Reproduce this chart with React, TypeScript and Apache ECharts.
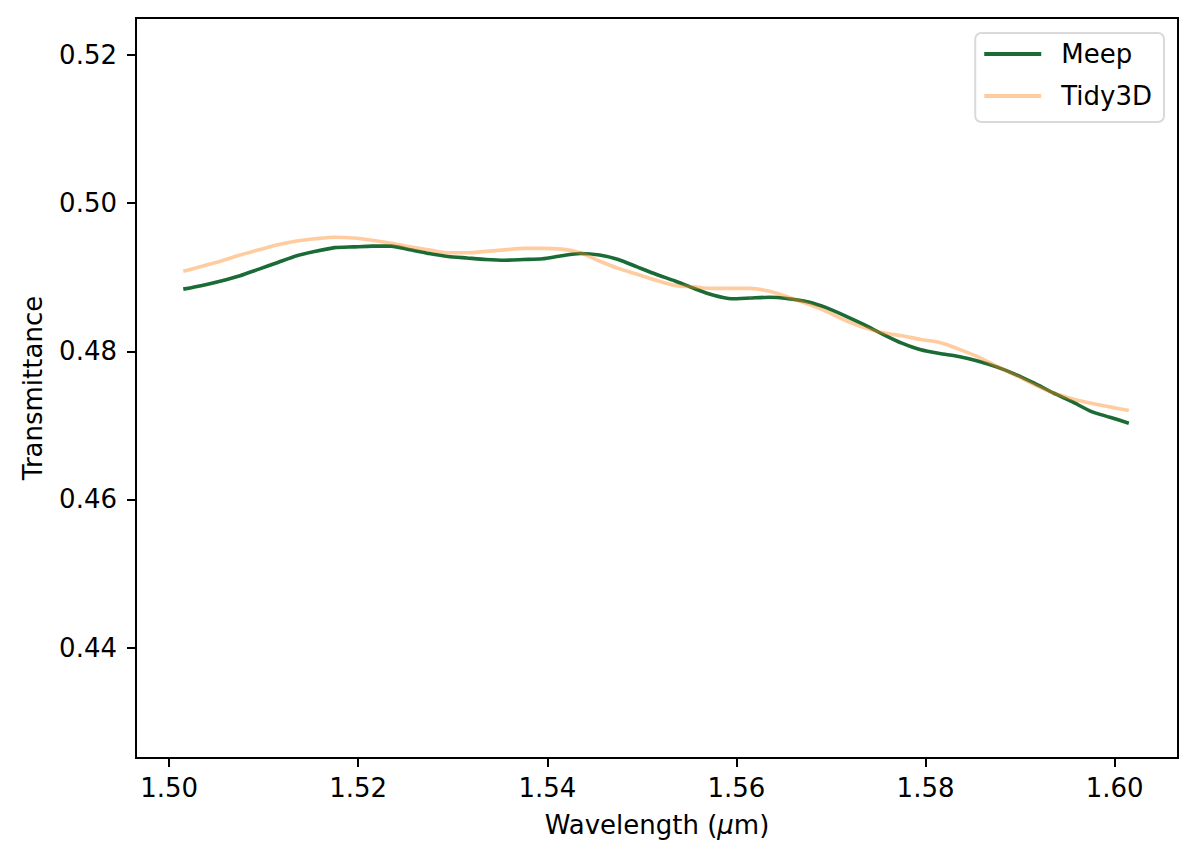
import React, { useEffect, useRef } from "react";
import * as echarts from "echarts";

const wavelengths = [
  1.5015, 1.5035, 1.5055, 1.5075, 1.5095, 1.5115, 1.5135, 1.5155, 1.5175, 1.5195,
  1.5215, 1.5235, 1.5255, 1.5275, 1.5295, 1.5315, 1.5335, 1.5355, 1.5375, 1.5395,
  1.5415, 1.5435, 1.5455, 1.5475, 1.5495, 1.5515, 1.5535, 1.5555, 1.5575, 1.5595,
  1.5615, 1.5635, 1.5655, 1.5675, 1.5695, 1.5715, 1.5735, 1.5755, 1.5775, 1.5795,
  1.5815, 1.5835, 1.5855, 1.5875, 1.5895, 1.5915, 1.5935, 1.5955, 1.5975, 1.5995,
  1.6015,
];

const meep = [
  0.4884, 0.4889, 0.4895, 0.4902, 0.4911, 0.492, 0.4929, 0.4935, 0.494, 0.4941,
  0.4942, 0.4942, 0.4937, 0.4932, 0.4928, 0.4926, 0.4924, 0.4923, 0.4924, 0.4925,
  0.4929, 0.4932, 0.493, 0.4924, 0.4914, 0.4904, 0.4895, 0.4885, 0.4876, 0.4871,
  0.4872, 0.4873, 0.4871, 0.4867, 0.4859, 0.4848, 0.4836, 0.4823, 0.4811, 0.4802,
  0.4797, 0.4793, 0.4787, 0.4779, 0.4769, 0.4757, 0.4744, 0.4732, 0.4719, 0.4711,
  0.4703,
];

const tidy3d = [
  0.4908, 0.4915, 0.4922, 0.493, 0.4937, 0.4944, 0.4949, 0.4952, 0.4954, 0.4953,
  0.495, 0.4946, 0.4941, 0.4937, 0.4933, 0.4933, 0.4935, 0.4937, 0.4939, 0.4939,
  0.4938, 0.4933, 0.4922, 0.4912, 0.4904, 0.4896, 0.4889, 0.4887, 0.4885, 0.4885,
  0.4885, 0.4881, 0.4873, 0.4864, 0.4854, 0.4842, 0.4832, 0.4825, 0.4821, 0.4816,
  0.4812, 0.4803, 0.4793, 0.478, 0.4768, 0.4755, 0.4744, 0.4736, 0.473, 0.4725,
  0.472,
];

const xTicks = [1.5, 1.52, 1.54, 1.56, 1.58, 1.6];
const yTicks = [0.44, 0.46, 0.48, 0.5, 0.52];

const FONT = "DejaVu Sans";
const MEEP_COLOR = "#1a6b35";
const TIDY_COLOR = "#ff7f0e";

const App = () => {
  const chartRef = useRef<HTMLDivElement>(null);

  useEffect(() => {
    if (!chartRef.current) return;
    const chart = echarts.init(chartRef.current, null, { renderer: "svg" });
    const axisCommon = {
      axisLine: { show: false },
      splitLine: { show: false },
    };
    chart.setOption({
      animation: false,
      backgroundColor: "#fff",
      textStyle: { fontFamily: FONT },
      grid: {
        left: 136,
        right: 18,
        top: 18,
        bottom: 103,
        show: true,
        borderColor: "#000",
        borderWidth: 2,
        backgroundColor: "transparent",
      },
      legend: {
        orient: "vertical",
        right: 32,
        top: 33,
        padding: [6, 12, 11, 9],
        itemGap: 12,
        itemWidth: 57,
        itemHeight: 4,
        backgroundColor: "#fff",
        borderColor: "#d9d9d9",
        borderWidth: 2,
        borderRadius: 6,
        textStyle: {
          fontFamily: FONT,
          fontSize: 26,
          color: "#000",
          lineHeight: 30,
          padding: [0, 0, 0, 15],
        },
        data: [
          { name: "Meep", icon: "rect", itemStyle: { color: MEEP_COLOR, opacity: 1 } },
          { name: "Tidy3D", icon: "rect", itemStyle: { color: TIDY_COLOR, opacity: 0.4 } },
        ],
      },
      xAxis: {
        type: "value",
        min: 1.4965,
        max: 1.6067,
        ...axisCommon,
        axisTick: {
          show: true,
          length: 9,
          lineStyle: { color: "#000", width: 2 },
          customValues: xTicks,
        },
        axisLabel: {
          fontFamily: FONT,
          fontSize: 26,
          color: "#000",
          margin: 17,
          customValues: xTicks,
          formatter: (v: number) => v.toFixed(2),
        },
        name: "Wavelength ({i|μ}m)",
        nameLocation: "middle",
        nameGap: 54,
        nameTextStyle: {
          fontFamily: FONT,
          fontSize: 26,
          color: "#000",
          rich: {
            i: { fontFamily: FONT, fontSize: 26, fontStyle: "italic", color: "#000" },
          },
        },
      },
      yAxis: {
        type: "value",
        min: 0.4251,
        max: 0.525,
        ...axisCommon,
        axisTick: {
          show: true,
          length: 9,
          lineStyle: { color: "#000", width: 2 },
          customValues: yTicks,
        },
        axisLabel: {
          fontFamily: FONT,
          fontSize: 26,
          color: "#000",
          margin: 19,
          customValues: yTicks,
          formatter: (v: number) => v.toFixed(2),
        },
        name: "Transmittance",
        nameLocation: "middle",
        nameGap: 90,
        nameTextStyle: { fontFamily: FONT, fontSize: 26, color: "#000" },
      },
      series: [
        {
          name: "Meep",
          type: "line",
          data: wavelengths.map((w, i) => [w, meep[i]]),
          symbol: "none",
          smooth: 0.2,
          lineStyle: { color: MEEP_COLOR, width: 3.6 },
          itemStyle: { color: MEEP_COLOR },
        },
        {
          name: "Tidy3D",
          type: "line",
          data: wavelengths.map((w, i) => [w, tidy3d[i]]),
          symbol: "none",
          smooth: 0.3,
          lineStyle: { color: TIDY_COLOR, width: 3.6, opacity: 0.4 },
          itemStyle: { color: TIDY_COLOR, opacity: 0.4 },
        },
      ],
    });
    return () => {
      chart.dispose();
    };
  }, []);

  return (
    <div
      ref={chartRef}
      style={{ position: "absolute", left: 0, top: 0, width: "1196px", height: "861px" }}
      aria-label="Transmittance vs wavelength line chart"
    />
  );
};

export default App;
